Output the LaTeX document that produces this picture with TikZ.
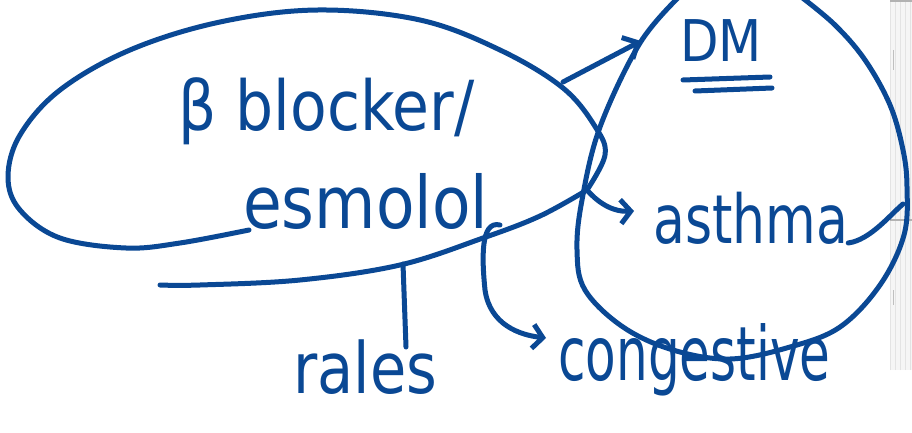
\documentclass[tikz,border=0pt]{standalone}
\usepackage{fontspec}
\setmainfont{DejaVu Sans}
\usetikzlibrary{arrows.meta}
\definecolor{ink}{RGB}{10,72,148}
\begin{document}
\begin{tikzpicture}[x=1pt,y=-1pt,
  pen/.style={draw=ink, line width=5pt, line cap=round, line join=round},
  hw/.style={text=ink, inner sep=0pt, anchor=base west},
  barb/.style={-{Straight Barb[length=#1pt,width=24pt,line width=5pt]}}]
\useasboundingbox (0,0) rectangle (912,433);
\fill[white] (0,0) rectangle (912,433);
% screenshot grid on the right edge
\fill[gray!8] (890,0) rectangle (912,370);
\draw[gray!22, line width=0.4pt, step=5] (890,0) grid (912,370);
\draw[gray!60, line width=1.5pt] (890,1) -- (912,1);
\draw[gray!60, line width=1.5pt] (890,220) -- (912,220);
\draw[gray!50, line width=1pt] (893,50) -- (893,70) (893,290) -- (893,305);

% named points
\coordinate (k) at (587,190);
\coordinate (dmstart) at (563,82);
\coordinate (dmtip) at (641,41);
\coordinate (astip) at (634,211);
\coordinate (ralestop) at (403,264);
\coordinate (ralesbot) at (406,347);
\coordinate (conghook) at (500,225);
\coordinate (congtip) at (546,338);

% big ellipse
\draw[pen] plot[smooth, tension=0.6] coordinates {(249,230) (180,243) (126,248) (60,238) (20,210) (8,177) (20,135) (60,90) (130,50) (220,22) (318,10) (420,20) (500,50) (563,88) (596,128) (605,155) (k)};
% tail line under ellipse
\draw[pen] plot[smooth, tension=0.6] coordinates {(k) (540,216) (483,238) (400,265) (300,280) (200,285) (160,285)};

% right circle
\draw[pen] plot[smooth, tension=0.6] coordinates {(680,-4) (640,43) (600,127) (582,200) (577,250) (585,290) (623,327) (673,350) (730,359) (790,347) (840,327) (880,285) (904,235) (907,187) (903,150) (890,105) (865,60) (835,25) (800,-4)};

% texts
\node[hw] (beta) at (178,130) {\scalebox{1}[1.15]{\fontsize{60}{60}\selectfont β blocker/}};
\node[hw] (esmolol) at (243,228) {\scalebox{1}[1.15]{\fontsize{63}{63}\selectfont esmolol}};
\node[hw] (dm) at (680,62) {\scalebox{1}[1.15]{\fontsize{50}{50}\selectfont DM}};
\node[hw] (asthma) at (653,243) {\scalebox{1}[1.3]{\fontsize{52}{52}\selectfont asthma}};
\node[hw] (rales) at (293,393) {\scalebox{1}[1.2]{\fontsize{59}{59}\selectfont rales}};
\node[hw] (congestive) at (558,380) {\scalebox{1}[1.5]{\fontsize{50}{50}\selectfont congestive}};

% DM underlines
\draw[pen] (683,80) -- (770,77);
\draw[pen] (695,91) -- (772,88);

% connectors
\draw[pen, barb=12] (dmstart) -- (dmtip);
\draw[pen, barb=10] (k) .. controls (600,205) and (615,212) .. (astip);
\draw[pen] (asthma.base east) .. controls (870,240) and (890,215) .. (903,204);
\draw[pen] (ralestop) -- (ralesbot);
\draw[pen, barb=10] (conghook) .. controls (480,220) and (482,260) .. (485,290) .. controls (490,325) and (520,335) .. (congtip);
\end{tikzpicture}
\end{document}
